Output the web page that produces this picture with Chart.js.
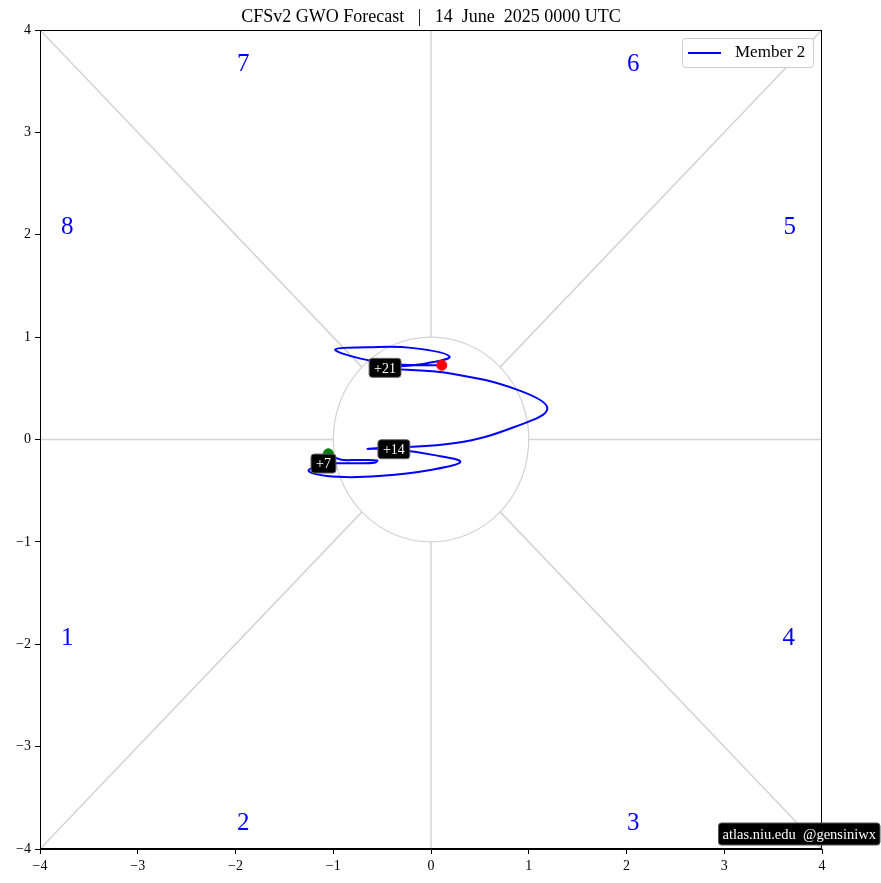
<!DOCTYPE html>
<html><head><meta charset="utf-8">
<script src="https://cdn.jsdelivr.net/npm/chart.js@4/dist/chart.umd.min.js"></script>
<style>html,body{margin:0;padding:0;background:#fff;} canvas{display:block;}</style>
</head><body>
<canvas id="c" width="881" height="883"></canvas>
<script>
// ---- data ----
const leadDays = [0,1,2,3,4,5,6,7,8,9,10,11,12,13,14,15,16,17,18,19,20,21,22,23,24,25,26,27,28,29];
const gwoX = [-1.05,-0.93,-0.75,-0.55,-0.58,-0.78,-0.97,-1.10,-1.25,-0.95,-0.50,-0.02,0.30,0.05,-0.38,-0.64,0.25,0.86,1.19,0.90,0.20,-0.47,-0.10,0.19,-0.20,-0.65,-0.98,-0.72,-0.35,0.11];
const gwoY = [-0.14,-0.195,-0.20,-0.205,-0.228,-0.232,-0.232,-0.235,-0.31,-0.365,-0.355,-0.30,-0.22,-0.155,-0.095,-0.09,-0.035,0.125,0.30,0.48,0.645,0.70,0.735,0.81,0.895,0.90,0.88,0.79,0.735,0.725];
const markDays = [7,14,21];
const phaseNames = ['1','2','3','4','5','6','7','8'];
const phaseX = [-3.72,-1.92,2.07,3.66,3.67,2.07,-1.92,-3.72];
const phaseY = [-1.94,-3.75,-3.75,-1.94,2.07,3.66,3.66,2.07];
const axisTicks = [-4,-3,-2,-1,0,1,2,3,4];
const guideX1 = [-4, 1, 0, 0, 0.707,-0.707,-0.707, 0.707];
const guideY1 = [ 0, 0,-4, 1, 0.707,-0.707, 0.707,-0.707];
const guideX2 = [-1, 4, 0, 0, 4,-4,-4, 4];
const guideY2 = [ 0, 0,-1, 4, 4,-4, 4,-4];
const circleRadius = 1;
const titleText = 'CFSv2 GWO Forecast   |   14  June  2025 0000 UTC';
const memberName = 'Member 2';
const creditText = 'atlas.niu.edu  @gensiniwx';

const FONT = "'Liberation Serif', 'DejaVu Serif', serif";

const guideSets = guideX1.map((x, i) => ({
  data: [{x: x, y: guideY1[i]}, {x: guideX2[i], y: guideY2[i]}],
  showLine: true, borderColor: '#d3d3d3', borderWidth: 1.5, pointRadius: 0, order: 10
}));

function rr(ctx, x, y, w, h, r) {
  ctx.beginPath();
  ctx.moveTo(x + r, y);
  ctx.lineTo(x + w - r, y); ctx.quadraticCurveTo(x + w, y, x + w, y + r);
  ctx.lineTo(x + w, y + h - r); ctx.quadraticCurveTo(x + w, y + h, x + w - r, y + h);
  ctx.lineTo(x + r, y + h); ctx.quadraticCurveTo(x, y + h, x, y + h - r);
  ctx.lineTo(x, y + r); ctx.quadraticCurveTo(x, y, x + r, y);
  ctx.closePath();
}

const decor = {
  id: 'decor',
  beforeDatasetsDraw(chart) {
    const {ctx, scales: {x, y}} = chart;
    ctx.save();
    ctx.strokeStyle = '#d3d3d3';
    ctx.lineWidth = 1.2;
    const cx = x.getPixelForValue(0), cy = y.getPixelForValue(0);
    const rx = x.getPixelForValue(circleRadius) - cx, ry = cy - y.getPixelForValue(circleRadius);
    ctx.beginPath();
    ctx.ellipse(cx, cy, rx, ry, 0, 0, Math.PI * 2);
    ctx.stroke();
    // phase numbers
    ctx.fillStyle = '#0000ff';
    ctx.font = '25px ' + FONT;
    ctx.textAlign = 'center';
    ctx.textBaseline = 'middle';
    phaseNames.forEach((p, i) => {
      ctx.fillText(p, x.getPixelForValue(phaseX[i]), y.getPixelForValue(phaseY[i]));
    });
    ctx.restore();
  },
  afterDatasetsDraw(chart) {
    const {ctx, scales: {x, y}} = chart;
    ctx.save();
    ctx.font = '14px ' + FONT;
    ctx.textAlign = 'center';
    ctx.textBaseline = 'middle';
    markDays.forEach(d => {
      const i = leadDays.indexOf(d);
      const px = x.getPixelForValue(gwoX[i]), py = y.getPixelForValue(gwoY[i]);
      const t = '+' + d;
      const w = ctx.measureText(t).width + 10, h = 19;
      rr(ctx, px - w / 2, py - h / 2, w, h, 3);
      ctx.fillStyle = '#000';
      ctx.fill();
      ctx.strokeStyle = '#666';
      ctx.lineWidth = 1;
      ctx.stroke();
      ctx.fillStyle = '#fff';
      ctx.fillText(t, px, py + 1);
    });
    ctx.restore();
  },
  afterDraw(chart) {
    const {ctx, chartArea: a} = chart;
    ctx.save();
    // frame
    ctx.strokeStyle = '#000';
    ctx.lineWidth = 1;
    ctx.strokeRect(a.left + 0.5, a.top + 0.5, a.right - a.left - 1, a.bottom - a.top - 1);
    // title
    ctx.fillStyle = '#000';
    ctx.font = '18px ' + FONT;
    ctx.textAlign = 'center';
    ctx.textBaseline = 'middle';
    ctx.fillText(titleText, (a.left + a.right) / 2, a.top - 13);
    // legend
    const lw = 131, lh = 29, lx = a.right - 9 - lw, ly = a.top + 8;
    rr(ctx, lx + 0.5, ly + 0.5, lw, lh, 3);
    ctx.fillStyle = 'rgba(255,255,255,0.9)';
    ctx.fill();
    ctx.strokeStyle = '#cccccc';
    ctx.stroke();
    ctx.strokeStyle = '#0000ff';
    ctx.lineWidth = 2;
    ctx.beginPath();
    ctx.moveTo(lx + 6, ly + 15); ctx.lineTo(lx + 39, ly + 15);
    ctx.stroke();
    ctx.fillStyle = '#000';
    ctx.font = '17px ' + FONT;
    ctx.textAlign = 'left';
    ctx.fillText(memberName, lx + 53, ly + 15);
    // credit
    ctx.font = '14.5px ' + FONT;
    const cw = ctx.measureText(creditText).width + 8, ch = 22;
    const cxr = a.right + 58, cyb = a.bottom - 4;
    rr(ctx, cxr - cw, cyb - ch, cw, ch, 3);
    ctx.fillStyle = '#000';
    ctx.fill();
    ctx.strokeStyle = '#555';
    ctx.lineWidth = 1;
    ctx.stroke();
    ctx.fillStyle = '#fff';
    ctx.textAlign = 'left';
    ctx.fillText(creditText, cxr - cw + 4, cyb - ch / 2 + 1);
    ctx.restore();
  }
};

const tickFmt = v => (v < 0 ? '\u2212' + Math.abs(v) : String(v));

new Chart(document.getElementById('c'), {
  type: 'scatter',
  data: {
    datasets: [
      {
        label: memberName,
        data: leadDays.map((d, i) => ({x: gwoX[i], y: gwoY[i]})),
        showLine: true, borderColor: '#0000ff', borderWidth: 2, tension: 0.4,
        pointRadius: 0, order: 2
      },
      {
        data: [{x: gwoX[0], y: gwoY[0]}], pointRadius: 5, pointBackgroundColor: '#008000',
        pointBorderColor: '#008000', order: 3
      },
      {
        data: [{x: gwoX[gwoX.length - 1], y: gwoY[gwoY.length - 1]}], pointRadius: 5,
        pointBackgroundColor: '#ff0000', pointBorderColor: '#ff0000', order: 1
      },
      ...guideSets
    ]
  },
  options: {
    responsive: false,
    animation: false,
    events: [],
    layout: {padding: {top: 30, right: 59, left: 0, bottom: 0}},
    plugins: {legend: {display: false}, tooltip: {enabled: false}, title: {display: false}},
    scales: {
      x: {
        type: 'linear', min: -4, max: 4,
        afterFit: s => { s.height = 34; },
        afterBuildTicks: s => { s.ticks = axisTicks.map(v => ({value: v})); },
        ticks: {callback: tickFmt, color: '#000', font: {family: FONT, size: 14}, padding: 4, maxRotation: 0},
        grid: {drawOnChartArea: false, drawTicks: true, tickLength: 5, color: '#000'},
        border: {display: true, color: '#000'}
      },
      y: {
        type: 'linear', min: -4, max: 4,
        afterFit: s => { s.width = 40; },
        afterBuildTicks: s => { s.ticks = axisTicks.map(v => ({value: v})); },
        ticks: {callback: tickFmt, color: '#000', font: {family: FONT, size: 14}, padding: 4},
        grid: {drawOnChartArea: false, drawTicks: true, tickLength: 5, color: '#000'},
        border: {display: true, color: '#000'}
      }
    }
  },
  plugins: [decor]
});
</script>
</body></html>
